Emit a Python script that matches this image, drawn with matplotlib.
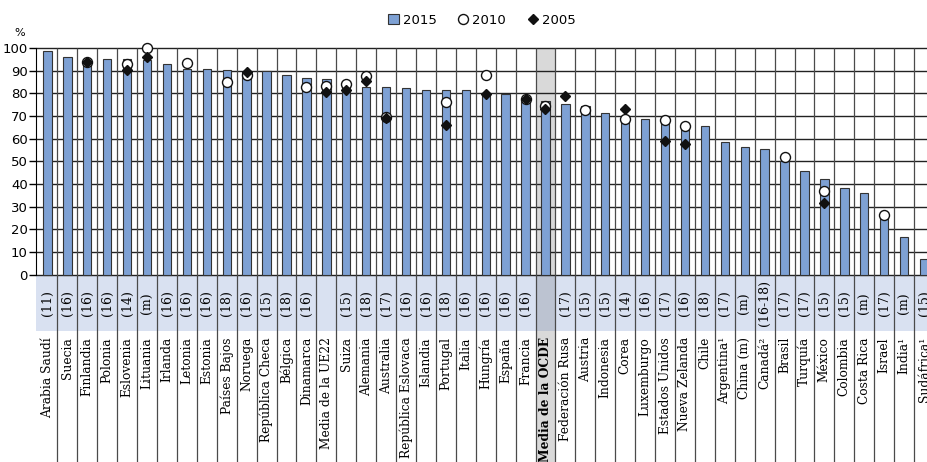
import matplotlib.pyplot as plt
import matplotlib.patches as mpatches
import matplotlib.lines as mlines
import numpy as np

nan = np.nan

countries = [
    "Arabia Saudí", "Suecia", "Finlandia", "Polonia", "Eslovenia", "Lituania",
    "Irlanda", "Letonia", "Estonia", "Países Bajos", "Noruega", "República Checa",
    "Bélgica", "Dinamarca", "Media de la UE22", "Suiza", "Alemania", "Australia",
    "República Eslovaca", "Islandia", "Portugal", "Italia", "Hungría", "España",
    "Francia", "Media de la OCDE", "Federación Rusa", "Austria", "Indonesia",
    "Corea", "Luxemburgo", "Estados Unidos", "Nueva Zelanda", "Chile",
    "Argentina¹", "China (m)", "Canadá²", "Brasil", "Turquía", "México",
    "Colombia", "Costa Rica", "Israel", "India¹", "Sudáfrica¹",
]
ages = [
    "(11)", "(16)", "(16)", "(16)", "(14)", "(m)", "(16)", "(16)", "(16)", "(18)",
    "(16)", "(15)", "(18)", "(16)", "", "(15)", "(18)", "(17)", "(16)", "(16)",
    "(18)", "(16)", "(16)", "(16)", "(16)", "", "(17)", "(15)", "(15)", "(14)",
    "(16)", "(17)", "(16)", "(18)", "(17)", "(m)", "(16-18)", "(17)", "(17)", "(15)",
    "(15)", "(m)", "(17)", "(m)", "(15)",
]
v2015 = [
    98.8, 96.0, 93.3, 95.3, 95.3, 94.8, 93.1, 90.9, 90.9, 90.1,
    89.5, 89.7, 87.9, 86.8, 86.2, 84.8, 82.8, 82.8, 82.2, 81.6,
    81.6, 81.6, 80.0, 79.8, 77.5, 76.5, 75.4, 74.5, 71.3, 68.0,
    68.7, 67.5, 66.9, 65.7, 58.4, 56.2, 55.4, 50.0, 45.9, 42.3,
    38.2, 36.0, 25.3, 16.6, 6.9,
]
v2010 = [
    nan, nan, 94.0, nan, 92.9, 100.2, nan, 93.5, nan, 85.0,
    88.0, nan, nan, 82.8, 83.1, 84.3, 87.5, 69.6, nan, nan,
    76.3, nan, 88.1, nan, 77.5, 74.5, nan, 72.5, nan, 68.7,
    nan, 68.1, 65.4, nan, nan, nan, nan, 51.8, nan, 37.1,
    nan, nan, 26.5, nan, nan,
]
v2005 = [
    nan, nan, 94.0, nan, 90.1, 96.0, nan, nan, nan, nan,
    89.2, nan, nan, nan, 80.8, 81.3, 85.3, 69.3, nan, nan,
    66.2, nan, 79.7, nan, 77.5, 73.1, 78.7, nan, nan, 73.2,
    nan, 59.1, 57.6, nan, nan, nan, nan, nan, nan, 31.6,
    nan, nan, nan, nan, nan,
]

bar_color = "#7ea1d4"
band_color = "#d9e1f1"
oecd_idx = countries.index("Media de la OCDE")

fig = plt.figure(figsize=(9.27, 4.62), dpi=100)
ax = fig.add_axes([36 / 927, 0, 1 - 36 / 927, 1 - 48 / 462])

x = np.arange(len(countries))
xmin, xmax = -0.575, 44.15
ymin, ymax = -82.5, 100
band_bottom = -24.7

ax.set_xlim(xmin, xmax)
ax.set_ylim(ymin, ymax)

# backgrounds
ax.add_patch(mpatches.Rectangle((xmin, band_bottom), xmax - xmin, -band_bottom,
                                facecolor=band_color, edgecolor="none", zorder=0.2))
ax.add_patch(mpatches.Rectangle((oecd_idx - 0.5, ymin), 1, ymax - ymin,
                                facecolor="#d9d9d9", edgecolor="none", zorder=0.3))
ax.add_patch(mpatches.Rectangle((oecd_idx - 0.5, band_bottom), 1, -band_bottom,
                                facecolor="#bcc3d1", edgecolor="none", zorder=0.4))

# grid
ax.hlines(np.arange(0, 101, 10), xmin, xmax, color="#222222", lw=1.0,
          zorder=1, clip_on=False)
ax.vlines(np.arange(len(countries)) + 0.5, ymin, ymax, color="#4a4a4a",
          lw=0.9, zorder=1, clip_on=False)

ax.bar(x, v2015, width=0.42, color=bar_color, edgecolor="#333333",
       linewidth=0.8, zorder=2)
ax.plot(x, v2010, linestyle="none", marker="o", markersize=7.2,
        markerfacecolor="white", markeredgecolor="#111111",
        markeredgewidth=1.0, zorder=3, clip_on=False)
ax.plot(x, v2005, linestyle="none", marker="D", markersize=5.2,
        color="#111111", zorder=4, clip_on=False)

for i in range(len(countries)):
    if ages[i]:
        ax.text(i, band_bottom / 2, ages[i], rotation=90, ha="center",
                va="center", fontsize=9, family="DejaVu Serif", zorder=5)
    weight = "bold" if i == oecd_idx else "normal"
    ax.text(i, band_bottom - 2.7, countries[i], rotation=90, ha="center",
            va="top", fontsize=8.8, family="DejaVu Serif", fontweight=weight,
            zorder=5)

ax.set_xticks([])
ax.set_yticks(np.arange(0, 101, 10))
ax.tick_params(axis="y", length=5, width=1.0, labelsize=9.5, pad=1)
for s in ["top", "right", "bottom"]:
    ax.spines[s].set_visible(False)
ax.spines["left"].set_bounds(0, 100)
ax.spines["left"].set_zorder(3)

fig.text(20 / 927, 1 - 33 / 462, "%", fontsize=8, ha="center", va="center")

handles = [
    mpatches.Patch(facecolor=bar_color, edgecolor="#333333", linewidth=0.8),
    mlines.Line2D([], [], linestyle="none", marker="o", markersize=7.2,
                  markerfacecolor="white", markeredgecolor="#111111"),
    mlines.Line2D([], [], linestyle="none", marker="D", markersize=5.2,
                  color="#111111"),
]
fig.legend(handles, ["2015", "2010", "2005"], loc="center", ncol=3,
           bbox_to_anchor=(482 / 927, 1 - 20 / 462), frameon=False,
           fontsize=9.5, handlelength=0.8, handletextpad=0.3, columnspacing=1.6,
           handleheight=0.8)

fig.savefig("out.png", dpi=100)
